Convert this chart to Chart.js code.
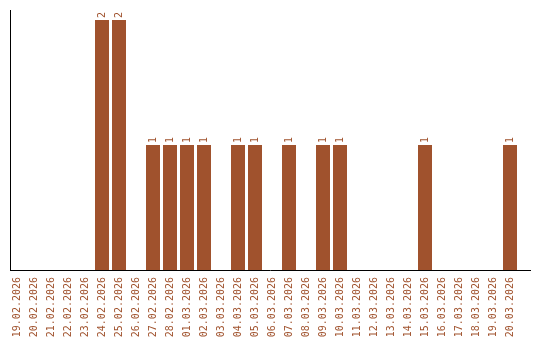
<!DOCTYPE html>
<html>
<head>
<meta charset="utf-8">
<script src="https://cdn.jsdelivr.net/npm/chart.js@4/dist/chart.umd.min.js"></script>
<style>
  html, body { margin: 0; padding: 0; background: #fff; }
  canvas { display: block; }
</style>
</head>
<body>
<canvas id="chart" width="540" height="340"></canvas>
<script>
const days = [
  '19.02.2026', '20.02.2026', '21.02.2026', '22.02.2026', '23.02.2026',
  '24.02.2026', '25.02.2026', '26.02.2026', '27.02.2026', '28.02.2026',
  '01.03.2026', '02.03.2026', '03.03.2026', '04.03.2026', '05.03.2026',
  '06.03.2026', '07.03.2026', '08.03.2026', '09.03.2026', '10.03.2026',
  '11.03.2026', '12.03.2026', '13.03.2026', '14.03.2026', '15.03.2026',
  '16.03.2026', '17.03.2026', '18.03.2026', '19.03.2026', '20.03.2026'
];
const counts = [
  0, 0, 0, 0, 0,
  2, 2, 0, 1, 1,
  1, 1, 0, 1, 1,
  0, 1, 0, 1, 1,
  0, 0, 0, 0, 1,
  0, 0, 0, 0, 1
];

const BROWN = '#a0522d';
const FONT = '10px "DejaVu Sans Mono", monospace';

// подписи значений над столбиками, повернутые как и подписи оси
const valueLabels = {
  id: 'valueLabels',
  afterDatasetsDraw(chart) {
    const ctx = chart.ctx;
    const meta = chart.getDatasetMeta(0);
    ctx.save();
    ctx.font = FONT;
    ctx.fillStyle = BROWN;
    ctx.textAlign = 'left';
    ctx.textBaseline = 'middle';
    meta.data.forEach((bar, i) => {
      if (!counts[i]) return;
      ctx.save();
      ctx.translate(bar.x, bar.y - 2);
      ctx.rotate(-Math.PI / 2);
      ctx.fillText(String(counts[i]), 0, 0);
      ctx.restore();
    });
    ctx.restore();
  }
};

// оси рисуем вручную: линия X длиннее области столбиков
const axisLines = {
  id: 'axisLines',
  afterDraw(chart) {
    const ctx = chart.ctx;
    const area = chart.chartArea;
    ctx.save();
    ctx.strokeStyle = '#000';
    ctx.lineWidth = 1;
    ctx.beginPath();
    ctx.moveTo(10.5, 10);
    ctx.lineTo(10.5, area.bottom + 0.5);
    ctx.moveTo(10, area.bottom + 0.5);
    ctx.lineTo(531, area.bottom + 0.5);
    ctx.stroke();
    ctx.restore();
  }
};

new Chart(document.getElementById('chart').getContext('2d'), {
  type: 'bar',
  data: {
    labels: days,
    datasets: [{
      data: counts,
      backgroundColor: BROWN,
      borderWidth: 0,
      categoryPercentage: 1,
      barPercentage: 14 / 17,
    }],
  },
  options: {
    responsive: false,
    animation: false,
    devicePixelRatio: 1,
    layout: { padding: { left: 8.5, right: 21.5, top: 20, bottom: 0 } },
    plugins: {
      legend: { display: false },
      tooltip: { enabled: false },
    },
    scales: {
      x: {
        grid: { display: false },
        border: { display: false },
        afterFit(scale) { scale.height = 70; },
        ticks: {
          color: BROWN,
          font: { family: '"DejaVu Sans Mono", monospace', size: 10 },
          minRotation: 90,
          maxRotation: 90,
          autoSkip: false,
          padding: -1,
        },
      },
      y: {
        display: false,
        min: 0,
        max: 2,
      },
    },
  },
  plugins: [valueLabels, axisLines],
});
</script>
</body>
</html>
